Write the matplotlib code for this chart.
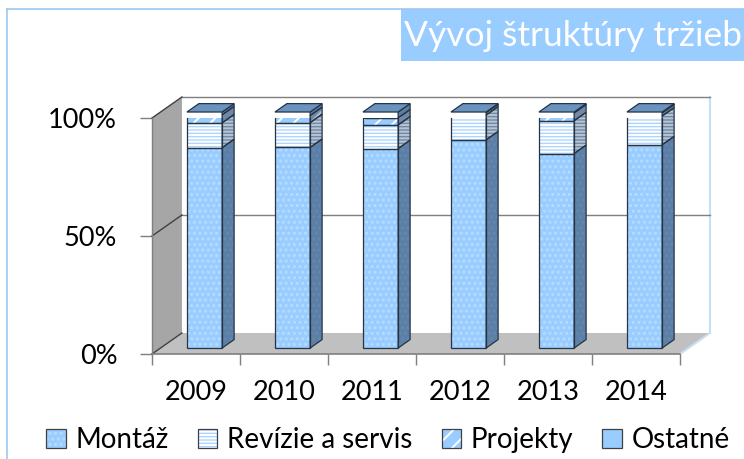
import matplotlib
matplotlib.use("Agg")
import matplotlib.pyplot as plt
from matplotlib.patches import Polygon, Rectangle, Patch
from matplotlib.lines import Line2D

plt.rcParams['font.family'] = ['Lato', 'DejaVu Sans']
plt.rcParams['hatch.linewidth'] = 1.4

# ---- data (percent shares) ----
years = ['2009', '2010', '2011', '2012', '2013', '2014']
series_names = ['Montáž', 'Revízie a servis', 'Projekty', 'Ostatné']
montaz = [84.9, 85.0, 84.5, 88.2, 82.4, 86.1]
revizie = [10.5, 10.5, 10.0, 10.5, 13.9, 12.2]
projekty = [3.4, 3.0, 3.0, 1.0, 3.3, 1.3]
ostatne = [1.2, 1.5, 2.5, 0.3, 0.4, 0.4]
y_ticks = [0, 50, 100]
y_ticklabels = ['0%', '50%', '100%']
title_text = 'Vývoj štruktúry tržieb'

W, H = 744, 459
fig = plt.figure(figsize=(W / 100, H / 100), dpi=100)
ax = fig.add_axes([152 / W, (H - 354) / H, (680 - 152) / W, (354 - 118) / H])
ax.set_xlim(0, len(years))
ax.set_ylim(0, 100)
for s in ax.spines.values():
    s.set_visible(False)
ax.patch.set_visible(False)

# 3D geometry (in data units)
DX, DY = 0.34, 8.9          # full depth of the plot box
D0 = 0.285                  # bar front position (fraction of depth)
BD = 0.40                   # bar depth (fraction)
BW = 0.40                   # bar width
bdx, bdy = DX * BD, DY * BD
ox, oy = DX * D0, DY * D0
n = len(years)

def poly(pts, **kw):
    p = Polygon(pts, closed=True, clip_on=False, **kw)
    ax.add_patch(p)
    return p

# walls and floor
poly([(DX, DY), (n + DX, DY), (n + DX, 100 + DY), (DX, 100 + DY)], facecolor='white', edgecolor='none', zorder=0)
poly([(0, 0), (n, 0), (n + DX, DY), (DX, DY)], facecolor='#c0c0c0', edgecolor='none', zorder=1)
poly([(0, 0), (DX, DY), (DX, 100 + DY), (0, 100)], facecolor='#a6a6a6', edgecolor='none', zorder=1)
ax.plot([n + DX, n + DX], [DY, 100 + DY], color='#c9def5', lw=1.5, clip_on=False, zorder=1)
ax.plot([n, n + DX], [0, DY], color='#c9def5', lw=1.5, clip_on=False, zorder=1)

# gridlines on back and side wall
for v in [50, 100]:
    ax.plot([DX, n + DX], [v + DY, v + DY], color='#7f7f7f', lw=1.0, clip_on=False, zorder=2)
    ax.plot([0, DX], [v, v + DY], color='#404040', lw=1.0, clip_on=False, zorder=2)
ax.plot([0, DX], [0, DY], color='#404040', lw=1.0, clip_on=False, zorder=2)
# axis lines
ax.plot([0, 0], [0, 100], color='#7f7f7f', lw=1.0, clip_on=False, zorder=2)
ax.plot([0, n], [0, 0], color='#7f7f7f', lw=1.2, clip_on=False, zorder=2)

# bars
front_fc = ['#99ccff', '#add6ff', '#99ccff', '#99ccff']
hatch_c = ['#b8dcff', 'white', 'white', '#99ccff']
hatches = ['...', '-----', '//', '']
side_fc = ['#5b7fa6', '#7089a6', '#7089a6', '#5b7fa6']
side_hc = ['#6688ae', '#b7c4d3', '#b7c4d3', '#5b7fa6']
top_fc = '#6a93c0'
edge = '#263445'

data = [montaz, revizie, projekty, ostatne]
xs = [i + 0.5 - BW / 2 + ox for i in range(n)]
bottoms = [oy] * n
handles = []
for k, vals in enumerate(data):
    ax.bar(xs, vals, width=BW, bottom=bottoms, align='edge',
           color=front_fc[k], edgecolor=hatch_c[k], hatch=hatches[k],
           linewidth=0, zorder=5)
    ax.bar(xs, vals, width=BW, bottom=bottoms, align='edge', fill=False,
           edgecolor=edge, linewidth=0.9, zorder=6)
    for i in range(n):
        x1 = xs[i] + BW
        y0, y1 = bottoms[i], bottoms[i] + vals[i]
        poly([(x1, y0), (x1 + bdx, y0 + bdy), (x1 + bdx, y1 + bdy), (x1, y1)],
             facecolor=side_fc[k], edgecolor=side_hc[k], hatch=hatches[k], linewidth=0, zorder=5)
        poly([(x1, y0), (x1 + bdx, y0 + bdy), (x1 + bdx, y1 + bdy), (x1, y1)],
             fill=False, edgecolor=edge, linewidth=0.9, zorder=6)
    handles.append((Patch(facecolor=front_fc[k], edgecolor=hatch_c[k], hatch=hatches[k], linewidth=0),
                    Patch(fill=False, edgecolor='#404040', linewidth=0.9)))
    bottoms = [b + v for b, v in zip(bottoms, vals)]

# top faces
for i in range(n):
    x0 = xs[i]
    yt = bottoms[i]
    poly([(x0, yt), (x0 + BW, yt), (x0 + BW + bdx, yt + bdy), (x0 + bdx, yt + bdy)],
         facecolor=top_fc, edgecolor=edge, linewidth=0.9, zorder=7)

# ticks and labels
ax.set_yticks(y_ticks)
ax.set_yticklabels(y_ticklabels)
ax.set_xticks(range(n + 1))
ax.set_xticklabels([])
ax.set_xticks([i + 0.5 for i in range(n)], minor=True)
ax.set_xticklabels(years, minor=True)
ax.tick_params(axis='y', which='major', length=9, width=1, color='#7f7f7f',
               labelsize=19.5, pad=16, labelcolor='black')
ax.tick_params(axis='x', which='major', length=8, width=1, color='#7f7f7f')
ax.tick_params(axis='x', which='minor', length=0, labelsize=19.5, pad=19, labelcolor='black')

# legend
fig.legend(handles, series_names, loc='center', bbox_to_anchor=(388 / W, (H - 440) / H),
           ncol=4, frameon=False, fontsize=20, handlelength=0.7, handleheight=0.7,
           handletextpad=0.35, columnspacing=1.05, borderpad=0)

# chart border
fig.add_artist(Line2D([7 / W, 7 / W], [0, 1 - 9 / H], color='#9cc8f0', lw=1.2, transform=fig.transFigure))
fig.add_artist(Line2D([7 / W, 1], [1 - 9 / H, 1 - 9 / H], color='#9cc8f0', lw=1.2, transform=fig.transFigure))

# title
fig.add_artist(Rectangle((401 / W, 1 - 61 / H), 1, 52 / H, transform=fig.transFigure,
                         facecolor='#99ccff', edgecolor='none'))
fig.text(742 / W, 1 - 36 / H, title_text, ha='right', va='center', color='white', fontsize=25.5)

fig.savefig('out.png', dpi=100)
